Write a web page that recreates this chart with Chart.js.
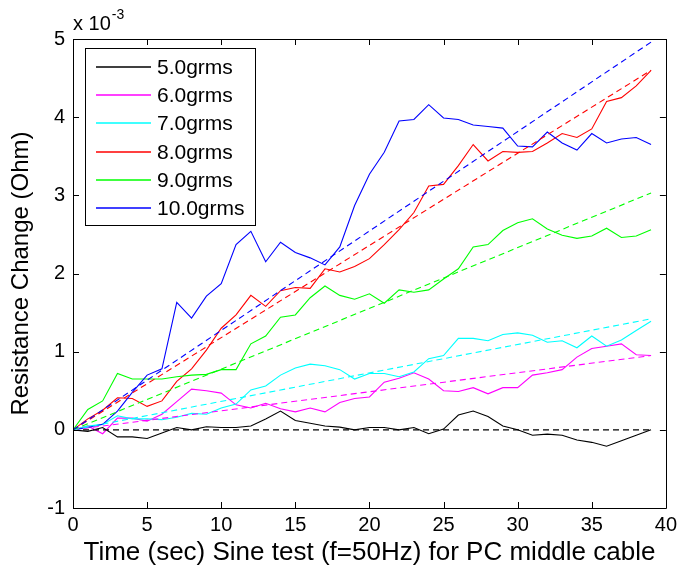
<!DOCTYPE html>
<html>
<head>
<meta charset="utf-8">
<script src="https://cdn.jsdelivr.net/npm/chart.js@4.4.1/dist/chart.umd.min.js"></script>
<style>
html,body{margin:0;padding:0;background:#fff;}
#wrap{width:682px;height:571px;position:relative;}
</style>
</head>
<body>
<div id="wrap"><canvas id="c" width="682" height="571"></canvas></div>
<script>
// time (sec)
const times = [0,1,2,3,4,5,6,7,8,9,10,11,12,13,14,15,16,17,18,19,20,21,22,23,24,25,26,27,28,29,30,31,32,33,34,35,36,37,38,39];
const seriesLabels = ['5.0grms','6.0grms','7.0grms','8.0grms','9.0grms','10.0grms'];
const seriesColors = ['#000000','#ff00ff','#00ffff','#ff0000','#00ff00','#0000ff'];
// resistance change (x 10^-3 Ohm)
const g50 = [0,-0.02,0.03,-0.09,-0.09,-0.11,-0.04,0.03,0,0.04,0.03,0.03,0.05,0.14,0.24,0.12,0.085,0.05,0.035,0,0.03,0.03,0,0.03,-0.05,0.01,0.19,0.24,0.17,0.05,0,-0.07,-0.055,-0.07,-0.13,-0.16,-0.21,-0.14,-0.07,0];
const g60 = [0,0.05,-0.05,0.15,0.15,0.11,0.2,0.36,0.52,0.5,0.47,0.32,0.28,0.34,0.27,0.23,0.28,0.23,0.35,0.4,0.42,0.61,0.66,0.73,0.65,0.5,0.49,0.54,0.46,0.54,0.54,0.7,0.73,0.77,0.93,1.04,1.07,1.1,0.96,0.95];
const g70 = [0,0.05,0.07,0.18,0.14,0.14,0.13,0.16,0.21,0.2,0.28,0.33,0.51,0.56,0.7,0.79,0.84,0.82,0.77,0.65,0.72,0.72,0.68,0.74,0.91,0.95,1.17,1.17,1.14,1.22,1.24,1.21,1.12,1.14,1.05,1.2,1.07,1.15,1.27,1.39];
const g80 = [0,0.14,0.25,0.41,0.4,0.3,0.37,0.62,0.78,1.02,1.3,1.47,1.72,1.58,1.78,1.82,1.81,2.06,2.02,2.09,2.19,2.37,2.56,2.78,3.12,3.14,3.38,3.65,3.44,3.56,3.55,3.56,3.67,3.79,3.74,3.85,4.2,4.25,4.4,4.6];
const g90 = [0,0.26,0.37,0.72,0.65,0.65,0.65,0.68,0.7,0.71,0.77,0.77,1.1,1.2,1.44,1.47,1.69,1.84,1.72,1.67,1.74,1.62,1.79,1.76,1.79,1.93,2.06,2.34,2.37,2.55,2.65,2.7,2.57,2.49,2.45,2.48,2.58,2.46,2.48,2.56];
const g100 = [0,0.03,0.07,0.24,0.48,0.7,0.78,1.63,1.43,1.71,1.87,2.37,2.54,2.15,2.4,2.27,2.2,2.11,2.34,2.87,3.27,3.55,3.95,3.97,4.16,3.99,3.97,3.9,3.88,3.86,3.63,3.62,3.81,3.67,3.58,3.79,3.67,3.72,3.74,3.65];
// linear trend lines: value at start and end time
const trendStart = [0,0,0,0,0,0];
const trendEnd = [0,0.95,1.42,4.6,3.03,4.96];
const xTicks = [0,5,10,15,20,25,30,35,40];
const yTicks = [-1,0,1,2,3,4,5];

const FONT = '"Liberation Sans", Arial, Helvetica, sans-serif';
const allSeries = [g50,g60,g70,g80,g90,g100];

const datasets = [];
allSeries.forEach((s, i) => {
  datasets.push({
    label: seriesLabels[i],
    data: times.map((t, k) => ({x: t, y: s[k]})),
    borderColor: seriesColors[i],
    borderWidth: 1.1,
    pointRadius: 0,
    fill: false,
    tension: 0,
    order: 20 - i
  });
});
allSeries.forEach((s, i) => {
  datasets.push({
    label: seriesLabels[i] + ' fit',
    data: [{x: times[0], y: trendStart[i]}, {x: times[times.length - 1], y: trendEnd[i]}],
    borderColor: seriesColors[i],
    borderWidth: 1.1,
    borderDash: [6, 4],
    pointRadius: 0,
    fill: false,
    order: 10 - i
  });
});

const frame = {
  id: 'frame',
  afterDatasetsDraw(chart) {
    const {ctx, chartArea: a, scales} = chart;
    ctx.save();
    ctx.strokeStyle = '#000';
    ctx.lineWidth = 1;
    ctx.beginPath();
    ctx.rect(Math.round(a.left) + 0.5, Math.round(a.top) + 0.5, Math.round(a.right - a.left), Math.round(a.bottom - a.top));
    ctx.stroke();
    const tl = 6;
    ctx.beginPath();
    xTicks.forEach(v => {
      const px = Math.round(scales.x.getPixelForValue(v)) + 0.5;
      ctx.moveTo(px, a.bottom); ctx.lineTo(px, a.bottom - tl);
      ctx.moveTo(px, a.top); ctx.lineTo(px, a.top + tl);
    });
    yTicks.forEach(v => {
      const py = Math.round(scales.y.getPixelForValue(v)) + 0.5;
      ctx.moveTo(a.left, py); ctx.lineTo(a.left + tl, py);
      ctx.moveTo(a.right, py); ctx.lineTo(a.right - tl, py);
    });
    ctx.stroke();

    // exponent label
    ctx.fillStyle = '#000';
    ctx.textBaseline = 'alphabetic';
    ctx.textAlign = 'left';
    ctx.font = '20px ' + FONT;
    ctx.fillText('x 10', a.left, a.top - 9);
    const w = ctx.measureText('x 10').width;
    ctx.font = '14px ' + FONT;
    ctx.fillText('-3', a.left + w + 1, a.top - 20);

    // legend box
    const lx = a.left + 12, ly = a.top + 9, lw = 170, lh = 177;
    ctx.fillStyle = '#fff';
    ctx.fillRect(lx, ly, lw, lh);
    ctx.strokeStyle = '#000';
    ctx.lineWidth = 1;
    ctx.strokeRect(Math.round(lx) + 0.5, Math.round(ly) + 0.5, lw, lh);
    ctx.font = '21px ' + FONT;
    ctx.textBaseline = 'middle';
    seriesLabels.forEach((lab, i) => {
      const yy = Math.round(ly + 19 + i * 28.2);
      ctx.strokeStyle = seriesColors[i];
      ctx.lineWidth = 1.6;
      ctx.beginPath();
      ctx.moveTo(lx + 11, yy); ctx.lineTo(lx + 66, yy);
      ctx.stroke();
      ctx.fillStyle = '#000';
      ctx.fillText(lab, lx + 72, yy + 1);
    });
    ctx.restore();
  }
};

new Chart(document.getElementById('c'), {
  type: 'line',
  data: {datasets},
  options: {
    responsive: false,
    animation: false,
    layout: {padding: {left: 0, top: 39, right: 14, bottom: 0}},
    plugins: {legend: {display: false}, tooltip: {enabled: false}},
    scales: {
      x: {
        type: 'linear', min: 0, max: 40,
        afterFit(s) { s.height = 63; },
        afterBuildTicks(s) { s.ticks = xTicks.map(v => ({value: v})); },
        grid: {display: false, drawTicks: false},
        border: {display: false},
        ticks: {color: '#000', font: {family: FONT, size: 20}, padding: 5, maxRotation: 0, autoSkip: false},
        title: {display: true, text: 'Time (sec) Sine test (f=50Hz) for PC middle cable', color: '#000', font: {family: FONT, size: 26}, padding: {top: 0, bottom: 3}}
      },
      y: {
        type: 'linear', min: -1, max: 5,
        afterFit(s) { s.width = 73; },
        afterBuildTicks(s) { s.ticks = yTicks.map(v => ({value: v})); },
        grid: {display: false, drawTicks: false},
        border: {display: false},
        ticks: {color: '#000', font: {family: FONT, size: 20}, padding: 8},
        title: {display: true, text: 'Resistance Change (Ohm)', color: '#000', font: {family: FONT, size: 24}, padding: {top: 7, bottom: 0}}
      }
    }
  },
  plugins: [frame]
});
</script>
</body>
</html>
